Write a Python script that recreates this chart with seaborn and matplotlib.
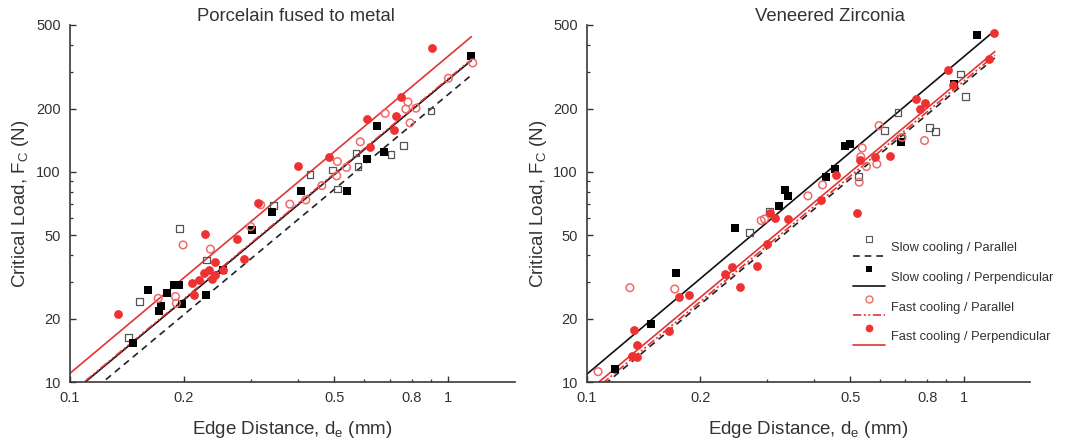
import numpy as np
import matplotlib
matplotlib.use("Agg")
import matplotlib.pyplot as plt
import seaborn as sns
from matplotlib.legend_handler import HandlerBase
from matplotlib.lines import Line2D

# ---------------- data ----------------
panel_titles = ["Porcelain fused to metal", "Veneered Zirconia"]
series_labels = ["Slow cooling / Parallel", "Slow cooling / Perpendicular",
                 "Fast cooling / Parallel", "Fast cooling / Perpendicular"]

# Porcelain fused to metal
pfm_slow_par_d = [0.143, 0.153, 0.195, 0.229, 0.345, 0.431, 0.495, 0.509, 0.570, 0.577, 0.705, 0.760, 0.90]
pfm_slow_par_F = [16.3, 24.1, 53.9, 38.1, 69.2, 96.8, 102, 82.8, 123, 106, 121, 133, 195]
pfm_slow_perp_d = [0.147, 0.161, 0.172, 0.174, 0.180, 0.188, 0.194, 0.198, 0.229, 0.254, 0.303,
                   0.342, 0.407, 0.540, 0.609, 0.649, 0.677, 1.15]
pfm_slow_perp_F = [15.4, 27.4, 21.8, 23.0, 26.6, 29.0, 29.0, 23.5, 25.9, 34.1, 52.9,
                   64.7, 81.2, 81.2, 115, 166, 125, 357]
pfm_fast_par_d = [0.171, 0.190, 0.191, 0.199, 0.235, 0.300, 0.319, 0.381, 0.420, 0.463, 0.507,
                  0.509, 0.538, 0.585, 0.681, 0.772, 0.782, 0.792, 0.821, 1.0, 1.16]
pfm_fast_par_F = [25.0, 25.5, 23.7, 44.9, 42.9, 54.9, 69.7, 70.2, 73.6, 86, 95.7,
                  112, 105, 139, 190, 199, 215, 171, 201, 279, 330]
pfm_fast_perp_d = [0.134, 0.210, 0.213, 0.219, 0.226, 0.228, 0.233, 0.237, 0.242, 0.242, 0.254,
                   0.277, 0.288, 0.313, 0.401, 0.485, 0.609, 0.620, 0.719, 0.729, 0.750, 0.905]
pfm_fast_perp_F = [21.0, 29.5, 25.9, 30.6, 33.1, 50.5, 34.1, 30.9, 32.3, 37.2, 34.1,
                   48.0, 38.4, 71.4, 107, 118, 179, 131, 158, 185, 227, 388]

# Veneered Zirconia
vz_slow_par_d = [0.2705, 0.305, 0.525, 0.616, 0.669, 0.68, 0.812, 0.842, 0.982, 1.01]
vz_slow_par_F = [51.4, 64.7, 95, 158, 191, 145, 162, 156, 292, 228]
vz_slow_perp_d = [0.119, 0.148, 0.172, 0.247, 0.323, 0.336, 0.341, 0.432, 0.455, 0.484, 0.500,
                  0.681, 0.941, 1.084]
vz_slow_perp_F = [11.5, 18.8, 32.9, 54.3, 68.9, 82.0, 77.1, 95, 103, 133, 136,
                  139, 262, 449]
vz_fast_par_d = [0.107, 0.130, 0.171, 0.290, 0.296, 0.386, 0.422, 0.528, 0.533, 0.538, 0.552,
                 0.588, 0.596, 0.686, 0.787]
vz_fast_par_F = [11.2, 28.1, 27.7, 58.7, 59.7, 76.9, 86.7, 89.3, 118, 130, 106,
                 109, 166, 146, 141]
vz_fast_perp_d = [0.132, 0.1335, 0.1354, 0.136, 0.165, 0.175, 0.186, 0.233, 0.242, 0.255, 0.283,
                  0.300, 0.307, 0.315, 0.341, 0.419, 0.459, 0.521, 0.530, 0.580, 0.636, 0.749,
                  0.768, 0.790, 0.910, 0.937, 1.165, 1.203]
vz_fast_perp_F = [13.3, 17.7, 15.0, 13.2, 17.5, 25.5, 25.9, 32.7, 35.4, 28.3, 35.7,
                  45.4, 64.0, 60.3, 59.5, 73.6, 96.8, 63.6, 114, 118, 119, 222,
                  199, 212, 306, 258, 345, 457]

# power-law fits F = A * d^n  (A, n per series, order as series_labels)
pfm_fit_A = [234, 275, 278, 356]
pfm_fit_n = [1.50, 1.50, 1.50, 1.51]
vz_fit_A = [262, 353, 270, 281]
vz_fit_n = [1.50, 1.51, 1.50, 1.496]
fit_d_range = [[0.1, 1.15], [0.1, 1.21]]

x_major = [0.1, 0.2, 0.5, 1]
x_major_labels = ["0.1", "0.2", "0.5", "1"]
x_minor = [0.3, 0.4, 0.6, 0.7, 0.8, 0.9]
x_minor_labels = ["", "", "", "", "0.8", ""]
y_major = [10, 20, 50, 100, 200, 500]
y_major_labels = ["10", "20", "50", "100", "200", "500"]
y_minor = [30, 40, 60, 70, 80, 90, 300, 400]

# ---------------- style ----------------
sns.set_style("ticks")
plt.rcParams["font.family"] = ["Liberation Sans", "DejaVu Sans"]
plt.rcParams["mathtext.default"] = "regular"

RED = "#ee3131"
RED_OPEN = "#f06a6a"
RED_LINE = "#e23434"
GREY = "#555555"
TXT = "#333333"

marker_styles = [
    dict(marker="s", s=24, facecolor="none", edgecolor=GREY, linewidth=0.9),
    dict(marker="s", s=27, color="black", linewidth=0),
    dict(marker="o", s=30, facecolor="none", edgecolor=RED_OPEN, linewidth=1.1),
    dict(marker="o", s=40, color=RED, linewidth=0),
]
line_styles = [
    dict(color="#222222", linestyle=(0, (4, 3)), linewidth=1.2),
    dict(color="#111111", linestyle="-", linewidth=1.2),
    dict(color=RED_LINE, linestyle=(0, (5, 1.5, 1.2, 1.5, 1.2, 1.5)), linewidth=1.2),
    dict(color=RED_LINE, linestyle="-", linewidth=1.2),
]

panels = [
    dict(d=[pfm_slow_par_d, pfm_slow_perp_d, pfm_fast_par_d, pfm_fast_perp_d],
         F=[pfm_slow_par_F, pfm_slow_perp_F, pfm_fast_par_F, pfm_fast_perp_F],
         A=pfm_fit_A, n=pfm_fit_n),
    dict(d=[vz_slow_par_d, vz_slow_perp_d, vz_fast_par_d, vz_fast_perp_d],
         F=[vz_slow_par_F, vz_slow_perp_F, vz_fast_par_F, vz_fast_perp_F],
         A=vz_fit_A, n=vz_fit_n),
]

fig = plt.figure(figsize=(10.65, 4.44), dpi=100)
W, H = 1065.0, 444.0
ax_boxes = [(70, 25, 515, 382), (587, 25, 1030, 382)]
title_x = [0.507, 0.549]

axes = []
for i, (x0, y0, x1, y1) in enumerate(ax_boxes):
    ax = fig.add_axes([x0 / W, 1 - y1 / H, (x1 - x0) / W, (y1 - y0) / H])
    axes.append(ax)
    p = panels[i]
    for k in range(4):
        dr = np.array(fit_d_range[i])
        sns.lineplot(x=dr, y=p["A"][k] * dr ** p["n"][k], ax=ax, estimator=None,
                     sort=False, zorder=2, **line_styles[k])
    for k in range(4):
        sns.scatterplot(x=p["d"][k], y=p["F"][k], ax=ax, zorder=3, **marker_styles[k])

    ax.set_xscale("log")
    ax.set_yscale("log")
    ax.set_xlim(0.1, 1.5)
    ax.set_ylim(10, 500)
    ax.set_xticks(x_major, labels=x_major_labels)
    ax.set_xticks(x_minor, labels=x_minor_labels, minor=True)
    ax.set_yticks(y_major, labels=y_major_labels)
    ax.set_yticks(y_minor, labels=[""] * len(y_minor), minor=True)
    ax.tick_params(which="major", direction="in", length=4.5, width=1.0, pad=6.5,
                   labelsize=10.5, colors=TXT)
    ax.tick_params(which="minor", direction="in", length=2.5, width=0.9, pad=6.5,
                   labelsize=10.5, colors=TXT)
    for side in ["top", "right"]:
        ax.spines[side].set_visible(False)
    for side in ["left", "bottom"]:
        ax.spines[side].set_linewidth(1.2)
        ax.spines[side].set_color("#3a3a3a")

    ax.set_xlabel("Edge Distance, d$_e$ (mm)", fontsize=13.5, color=TXT)
    ax.set_ylabel("Critical Load, F$_C$ (N)", fontsize=13.5, color=TXT)
    ax.xaxis.set_label_coords(0.5, -0.105)
    ax.yaxis.set_label_coords(-0.088 if i == 0 else -0.086, 0.5)
    ax.text(title_x[i], 1.01, panel_titles[i], transform=ax.transAxes,
            ha="center", va="baseline", fontsize=13.3, color=TXT)


# ---------------- legend (marker above, line below) ----------------
class Entry:
    def __init__(self, marker_kw, line_kw):
        self.marker_kw = marker_kw
        self.line_kw = line_kw


class EntryHandler(HandlerBase):
    def create_artists(self, legend, orig, xdescent, ydescent, width, height, fontsize, trans):
        cy = height / 2.0 - ydescent
        x0 = -xdescent
        ln = Line2D([x0, x0 + width], [cy - 6.3, cy - 6.3], **orig.line_kw)
        mk = Line2D([x0 + width / 2.0], [cy + 5.8], linestyle="none", **orig.marker_kw)
        ln.set_transform(trans)
        mk.set_transform(trans)
        return [ln, mk]


leg_markers = [
    dict(marker="s", markersize=4.5, markerfacecolor="none", markeredgecolor=GREY, markeredgewidth=0.8),
    dict(marker="s", markersize=4.5, markerfacecolor="black", markeredgecolor="black", markeredgewidth=0),
    dict(marker="o", markersize=5.0, markerfacecolor="none", markeredgecolor=RED_OPEN, markeredgewidth=1.0),
    dict(marker="o", markersize=5.5, markerfacecolor=RED, markeredgecolor=RED, markeredgewidth=0),
]
entries = [Entry(leg_markers[k], line_styles[k]) for k in range(4)]
leg = axes[1].legend(entries, series_labels, handler_map={Entry: EntryHandler()},
                     loc="upper left", bbox_to_anchor=(0.600, 0.405), frameon=False,
                     fontsize=9.3, handlelength=2.5, handleheight=2.0, handletextpad=0.45,
                     labelspacing=0.75, borderpad=0, borderaxespad=0)
for t in leg.get_texts():
    t.set_color(TXT)

fig.savefig("out.png", dpi=100)
